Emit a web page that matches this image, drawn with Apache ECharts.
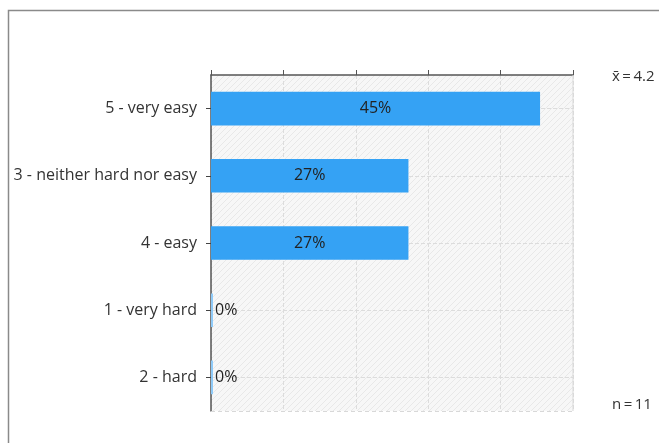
<!DOCTYPE html>
<html><head><meta charset="utf-8">
<script src="https://cdn.jsdelivr.net/npm/echarts@6/dist/echarts.min.js"></script>
<style>html,body{margin:0;padding:0;background:#fff}#c{width:659px;height:443px}</style>
</head><body><div id="c"></div>
<script>
const categories = ['5 - very easy', '3 - neither hard nor easy', '4 - easy', '1 - very hard', '2 - hard'];
const values = [45.45, 27.27, 27.27, 0, 0];
const labels = ['45%', '27%', '27%', '0%', '0%'];
const meanText = 'x\u0304\u2009=\u20094.2';
const nText = 'n\u2009=\u200911';
const axisMax = 50, axisInterval = 10;

const cv = document.createElement('canvas');
cv.width = 6; cv.height = 6;
const cx = cv.getContext('2d');
cx.fillStyle = '#f7f7f7'; cx.fillRect(0,0,6,6);
cx.strokeStyle = '#e8e8e8'; cx.lineWidth = 1;
cx.beginPath(); cx.moveTo(0,6); cx.lineTo(6,0); cx.stroke();
cx.beginPath(); cx.moveTo(-1,1); cx.lineTo(1,-1); cx.stroke();
cx.beginPath(); cx.moveTo(5,7); cx.lineTo(7,5); cx.stroke();

const FONT = 'Open Sans';
const L = 211, T = 75, W = 362, H = 336;
const band = H / categories.length;
const chart = echarts.init(document.getElementById('c'));
chart.setOption({
  animation: false,
  textStyle: {fontFamily: FONT},
  grid: [
    {left: L, top: T, width: W, height: H, show: true,
      backgroundColor: {image: cv, repeat: 'repeat'}, borderWidth: 0},
    {left: L, top: T + band / 2, width: W, height: H - band, show: false}
  ],
  xAxis: [
    {type: 'value', position: 'top', min: 0, max: axisMax, interval: axisInterval,
      axisLine: {show: true, lineStyle: {color: '#555', width: 1.5}},
      axisTick: {show: true, length: 5, lineStyle: {color: '#555'}},
      axisLabel: {show: false},
      splitLine: {show: true, lineStyle: {color: '#dcdcdc', type: 'dashed'}}},
    {type: 'value', gridIndex: 1, show: false, min: 0, max: 1, splitLine: {show: false}}
  ],
  yAxis: [
    {type: 'category', data: categories, inverse: true,
      axisLine: {show: true, lineStyle: {color: '#555', width: 1.5}},
      axisTick: {show: true, alignWithLabel: true, length: 5, lineStyle: {color: '#444'}},
      axisLabel: {color: '#333', fontSize: 16, margin: 14, fontFamily: FONT},
      splitLine: {show: false}},
    {type: 'value', gridIndex: 1, min: 0, max: categories.length - 1, interval: 1,
      axisLine: {show: false}, axisTick: {show: false}, axisLabel: {show: false},
      splitLine: {show: true, lineStyle: {color: '#dcdcdc', type: 'dashed'}}}
  ],
  series: [
    {type: 'bar', z: 3, barWidth: '50%', barMinHeight: 2,
      itemStyle: {color: '#35a2f4'},
      data: values.map((v, i) => ({value: v,
        itemStyle: v === 0 ? {color: '#8fcaf8'} : undefined,
        label: {show: true, formatter: labels[i], color: '#222', fontSize: 16, fontFamily: FONT,
          position: v === 0 ? 'right' : 'inside', distance: 2}}))}
  ],
  graphic: [
    {type: 'rect', shape: {x: 8.5, y: 10.5, width: 700, height: 500}, silent: true,
      style: {fill: 'none', stroke: '#8a8a8a', lineWidth: 1.5}, z: -10},
    {type: 'line', shape: {x1: 573, y1: 75, x2: 573, y2: 411}, style: {stroke: '#d8d8d8', lineWidth: 1}, z: 5},
    {type: 'line', shape: {x1: 211, y1: 411.5, x2: 573, y2: 411.5}, style: {stroke: '#d8d8d8', lineWidth: 1, lineDash: [4, 3]}, z: 5},
    {type: 'text', left: 612, top: 69, style: {text: meanText, fill: '#333', font: '15px ' + FONT}},
    {type: 'text', left: 612, top: 397, style: {text: nText, fill: '#333', font: '15px ' + FONT}}
  ]
});
</script></body></html>
